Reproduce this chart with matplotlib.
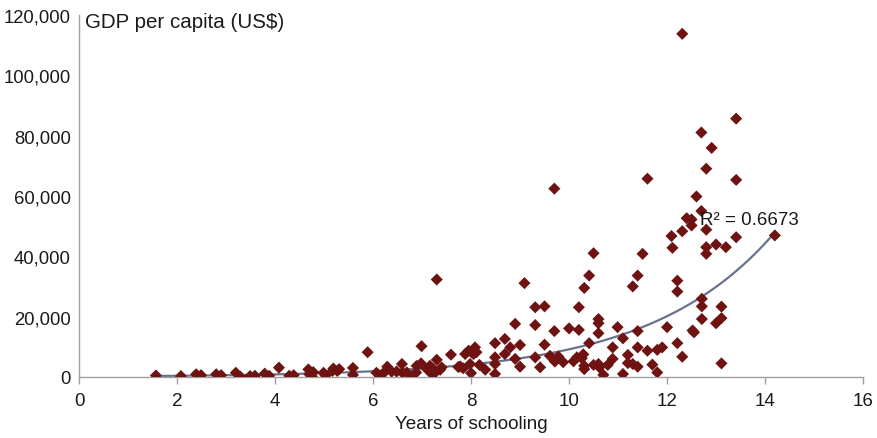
import numpy as np
import matplotlib
matplotlib.use("Agg")
import matplotlib.pyplot as plt
from matplotlib.ticker import FuncFormatter

plt.rcParams['font.family'] = ['Liberation Sans', 'DejaVu Sans']

# years of schooling / GDP per capita (US$)
years = [1.57, 2.08, 2.39, 2.49, 2.80, 2.90, 3.20, 3.29, 3.49, 3.59, 3.79, 3.88,
         4.08, 4.29, 4.38, 4.68, 4.70, 4.75, 4.78, 4.99, 5.03, 5.17, 5.19, 5.27,
         5.31, 5.59, 5.59, 5.89, 6.07, 6.14, 6.24, 6.29, 6.38, 6.48, 6.59, 6.60,
         6.69, 6.79, 6.88, 6.89, 6.98, 6.99, 7.10, 7.16, 7.20, 7.23, 7.27, 7.30,
         7.30, 7.37, 7.40, 7.59, 7.74, 7.78, 7.84, 7.88, 7.95, 7.98, 8.00, 8.01,
         8.05, 8.08, 8.11, 8.17, 8.29, 8.49, 8.49, 8.49, 8.49, 8.69, 8.69, 8.80,
         8.90, 8.90, 9.00, 9.00, 9.09, 9.31, 9.31, 9.31, 9.41, 9.50, 9.50, 9.61,
         9.68, 9.70, 9.70, 9.71, 9.78, 9.88, 10.00, 10.09, 10.16, 10.20, 10.20, 10.26,
         10.29, 10.31, 10.31, 10.31, 10.41, 10.41, 10.50, 10.50, 10.60, 10.60, 10.60, 10.60,
         10.62, 10.70, 10.79, 10.89, 10.89, 10.99, 11.10, 11.10, 11.20, 11.20, 11.30, 11.30,
         11.40, 11.40, 11.40, 11.40, 11.50, 11.60, 11.60, 11.70, 11.80, 11.80, 11.90, 12.00,
         12.09, 12.11, 12.21, 12.21, 12.21, 12.31, 12.31, 12.31, 12.40, 12.50, 12.50, 12.52,
         12.55, 12.60, 12.70, 12.70, 12.71, 12.71, 12.71, 12.80, 12.80, 12.80, 12.80, 12.91,
         13.00, 13.00, 13.11, 13.11, 13.11, 13.20, 13.41, 13.41, 13.41, 14.20]
gdp = [500, 300, 900, 600, 900, 600, 1400, 150, 300, 400, 1100, 400,
       3100, 400, 600, 2500, 900, 200, 1600, 1400, 500, 2000, 2800, 2000,
       2600, 3000, 700, 8200, 1400, 400, 1700, 3400, 1800, 1800, 4300, 1400,
       1500, 300, 1500, 3700, 4500, 10200, 2600, 3700, 1000, 2600, 1500, 5700,
       32300, 2400, 3200, 7400, 3300, 3500, 2900, 7600, 8700, 4300, 1300, 8200,
       7600, 9800, 8200, 4000, 2400, 11200, 6500, 4300, 1000, 12600, 7600, 9800,
       17600, 6000, 10600, 3400, 31100, 23100, 17200, 6500, 3200, 23400, 10700, 7000,
       6000, 62400, 15200, 5100, 6800, 4900, 16100, 5200, 6500, 15600, 23100, 6200,
       7500, 29500, 3700, 2600, 33600, 11200, 41000, 4000, 19200, 17800, 14500, 4300,
       3200, 700, 4000, 9800, 6000, 16500, 12800, 1000, 7300, 4600, 30000, 4300,
       33600, 15200, 9800, 3400, 40800, 65700, 8700, 4100, 9000, 1500, 9800, 16500,
       46700, 42800, 31900, 28300, 11200, 113700, 48300, 6700, 52600, 52200, 50200, 15400,
       14800, 59800, 81000, 55000, 25900, 23400, 19200, 69000, 48800, 43000, 40800, 75900,
       43900, 17800, 23300, 19500, 4500, 43000, 85600, 65300, 46300, 46900]
r2_text = 'R² = 0.6673'

x = np.array(years)
y = np.array(gdp)

# exponential trendline, fitted like a spreadsheet does (log-linear)
b, ln_a = np.polyfit(x, np.log(y), 1)
xt = np.linspace(x.min(), x.max(), 200)
yt = np.exp(ln_a) * np.exp(b * xt)

fig = plt.figure(figsize=(8.78, 4.39), dpi=100)
ax = fig.add_axes([0.090, 0.139, 0.893, 0.825])

ax.scatter(x, y, marker='D', s=38, color='#6e1212', edgecolors='none', zorder=3)
ax.plot(xt, yt, color='#69738f', lw=1.6, zorder=2)

ax.set_xlim(0, 16)
ax.set_ylim(0, 120000)
ax.set_xticks(range(0, 17, 2))
ax.set_yticks(range(0, 120001, 20000))
ax.yaxis.set_major_formatter(FuncFormatter(lambda v, p: '{:,.0f}'.format(v)))

for s in ['top', 'right']:
    ax.spines[s].set_visible(False)
for s in ['left', 'bottom']:
    ax.spines[s].set_color('#a0a0a0')
    ax.spines[s].set_linewidth(1.0)

ax.tick_params(axis='x', length=5, width=1.0, color='#a0a0a0', pad=6,
               labelsize=13.5, labelcolor='#1a1a1a')
ax.tick_params(axis='y', length=0, pad=6, labelsize=13.3, labelcolor='#1a1a1a')

ax.set_xlabel('Years of schooling', fontsize=13.6, color='#1a1a1a', labelpad=4)
ax.text(0.12, 117800, 'GDP per capita (US$)', fontsize=14.8, color='#1a1a1a',
        va='center', ha='left')
ax.text(12.67, 52300, r2_text, fontsize=13.5, color='#1a1a1a', va='center', ha='left')

fig.savefig('out.png', dpi=100)
